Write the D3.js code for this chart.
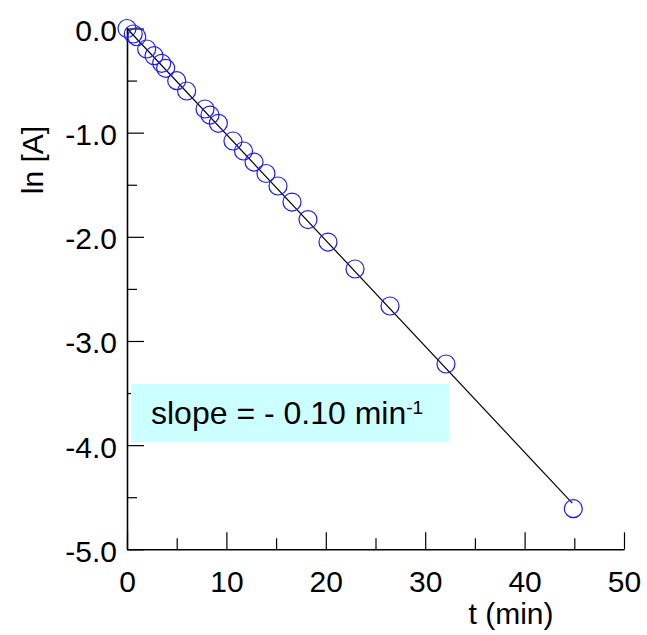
<!DOCTYPE html>
<html>
<head>
<meta charset="utf-8">
<script src="https://cdn.jsdelivr.net/npm/d3@7"></script>
<style>
  html, body { margin: 0; padding: 0; background: #fff; }
  svg { display: block; }
  text { font-family: "Liberation Sans", Arial, Helvetica, sans-serif; fill: #000; }
</style>
</head>
<body>
<script>
// ---- data ----
const tValues   = [0, 0.63, 0.98, 1.98, 2.72, 3.49, 3.89, 5.0, 6.0, 7.85, 8.35, 9.19,
                   10.66, 11.72, 12.78, 13.98, 15.19, 16.6, 18.21, 20.22, 22.94, 26.46, 32.09, 44.9];
const lnAValues = [0, -0.053, -0.079, -0.197, -0.261, -0.334, -0.382, -0.501, -0.600, -0.773, -0.831, -0.910,
                   -1.080, -1.176, -1.282, -1.392, -1.512, -1.666, -1.834, -2.050, -2.309, -2.664, -3.221, -4.61];
const fitT   = [0, 44.8];
const fitLnA = [0, -4.556];
const xMajorTicks = [0, 10, 20, 30, 40, 50];
const xMinorTicks = [5, 15, 25, 35, 45];
const yMajorTicks = [0, -1, -2, -3, -4, -5];
const yMinorTicks = [-0.5, -1.5, -2.5, -3.5, -4.5];
const xTitle = "t (min)";
const yTitle = "ln [A]";
const slopeText = "slope = - 0.10 min";
const slopeSup = "-1";

// ---- layout ----
const W = 647, H = 635;
const svg = d3.select("body").append("svg").attr("width", W).attr("height", H);

const x = d3.scaleLinear().domain([0, 50]).range([127, 624]);
const y = d3.scaleLinear().domain([-5, 0]).range([549.3, 28.5]);

const FS = 30;

// x axis
const gx = svg.append("g").attr("transform", `translate(0,${y(-5)})`);
gx.call(d3.axisBottom(x).tickValues(xMajorTicks).tickSizeInner(-17).tickSizeOuter(0)
        .tickPadding(21).tickFormat(d => String(d)));
svg.append("g").attr("transform", `translate(0,${y(-5)})`)
  .call(d3.axisBottom(x).tickValues(xMinorTicks).tickSizeInner(-11).tickSizeOuter(0).tickFormat(""))
  .call(g => g.select(".domain").remove());

// y axis
const gy = svg.append("g").attr("transform", `translate(${x(0)},0)`);
gy.call(d3.axisLeft(y).tickValues(yMajorTicks).tickSizeInner(-17).tickSizeOuter(0)
        .tickPadding(10).tickFormat(d => d.toFixed(1)));
svg.append("g").attr("transform", `translate(${x(0)},0)`)
  .call(d3.axisLeft(y).tickValues(yMinorTicks).tickSizeInner(-10).tickSizeOuter(0).tickFormat(""))
  .call(g => g.select(".domain").remove());

svg.selectAll(".domain").attr("stroke", "#000").attr("stroke-width", 1.6);
svg.selectAll(".tick line").attr("stroke", "#000").attr("stroke-width", 1.2);
svg.selectAll(".tick text").attr("font-size", FS).attr("font-family", "Liberation Sans, Arial, sans-serif").attr("fill", "#000");
gy.selectAll(".tick text").attr("dy", "0.4em");

// axis titles
svg.append("text").attr("x", 511).attr("y", 624).attr("text-anchor", "middle")
  .attr("font-size", FS).text(xTitle);
svg.append("text").attr("transform", `translate(43,160) rotate(-90)`).attr("text-anchor", "middle")
  .attr("font-size", FS).text(yTitle);

// slope annotation box (drawn over ticks)
svg.append("rect").attr("x", 131).attr("y", 384).attr("width", 318).attr("height", 58)
  .attr("fill", "#ccffff");
const st = svg.append("text").attr("x", 151).attr("y", 424).attr("font-size", 32);
st.append("tspan").text(slopeText);
st.append("tspan").attr("font-size", 19).attr("dy", -10).text(slopeSup);

// fit line
const line = d3.line().x(d => x(d[0])).y(d => y(d[1]));
svg.append("path").datum(d3.zip(fitT, fitLnA)).attr("d", line)
  .attr("fill", "none").attr("stroke", "#000").attr("stroke-width", 1.2);

// data circles
svg.append("g").selectAll("circle").data(d3.zip(tValues, lnAValues)).join("circle")
  .attr("cx", d => x(d[0])).attr("cy", d => y(d[1])).attr("r", 9)
  .attr("fill", "none").attr("stroke", "#1a1aff").attr("stroke-width", 1.2);
</script>
</body>
</html>
